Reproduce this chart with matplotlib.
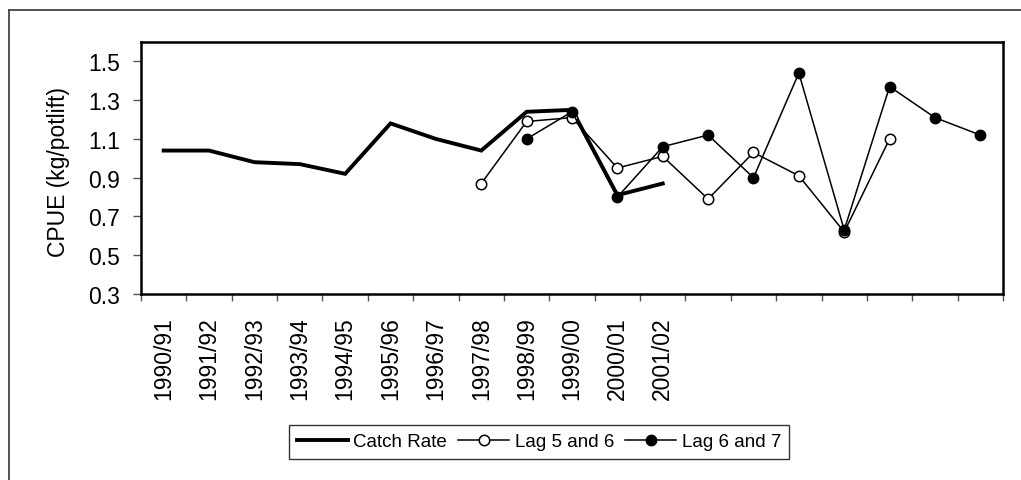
import matplotlib
matplotlib.use("Agg")
import matplotlib.pyplot as plt
from matplotlib.lines import Line2D
import numpy as np

plt.rcParams['font.family'] = ['Liberation Sans', 'DejaVu Sans']

seasons = ["1990/91", "1991/92", "1992/93", "1993/94", "1994/95", "1995/96",
           "1996/97", "1997/98", "1998/99", "1999/00", "2000/01", "2001/02",
           "", "", "", "", "", "", ""]
catch_rate = [1.04, 1.04, 0.98, 0.97, 0.92, 1.18, 1.10, 1.04, 1.24, 1.25, 0.81, 0.87,
              None, None, None, None, None, None, None]
lag_5_6 = [None, None, None, None, None, None, None, 0.87, 1.19, 1.21, 0.95, 1.01,
           0.79, 1.03, 0.91, 0.62, 1.10, None, None]
lag_6_7 = [None, None, None, None, None, None, None, None, 1.10, 1.24, 0.80, 1.06,
           1.12, 0.90, 1.44, 0.63, 1.37, 1.21, 1.12]
y_ticks = [0.3, 0.5, 0.7, 0.9, 1.1, 1.3, 1.5]

def arr(v):
    return np.array([np.nan if x is None else x for x in v], dtype=float)

W, H = 1021, 481
fig = plt.figure(figsize=(W / 100, H / 100), dpi=100)
ax = fig.add_axes([141 / W, 1 - 295 / H, (1003 - 141) / W, (295 - 43) / H])

x = np.arange(len(seasons)) + 0.5
ax.plot(x, arr(catch_rate), color='black', lw=2.8, solid_joinstyle='miter',
        label='Catch Rate', zorder=3)
ax.plot(x, arr(lag_5_6), color='black', lw=1.1, marker='o', markersize=7.5,
        markerfacecolor='white', markeredgecolor='black', markeredgewidth=1.1,
        label='Lag 5 and 6', zorder=4)
ax.plot(x, arr(lag_6_7), color='black', lw=1.1, marker='o', markersize=7.5,
        markerfacecolor='black', markeredgecolor='black',
        label='Lag 6 and 7', zorder=5)

ax.set_xlim(0, len(seasons))
ax.set_ylim(0.3, 1.6)
ax.set_yticks(y_ticks)
ax.set_yticklabels([f"{v:.1f}" for v in y_ticks], fontsize=16.5)
ax.set_xticks(np.arange(0, len(seasons) + 1))
ax.set_xticklabels([])
ax.set_xticks(x, minor=True)
ax.set_xticklabels(seasons, minor=True, rotation=90, fontsize=16.5)
ax.tick_params(axis='x', which='minor', length=0, pad=16)
ax.tick_params(axis='x', which='major', length=5, width=1, color='#555555')
ax.tick_params(axis='y', length=6, width=1, color='#555555', pad=9)
for s in ax.spines.values():
    s.set_linewidth(1.8)
    s.set_color('black')
fig.text(59 / W, 1 - 172 / H, "CPUE (kg/potlift)", rotation=90, fontsize=16.5,
         ha='center', va='center')

leg = fig.legend(loc='center', bbox_to_anchor=(539 / W, 1 - 442.5 / H), ncol=3,
                 fontsize=13.5, frameon=True, fancybox=False, handlelength=2.7,
                 handletextpad=0.3, columnspacing=0.6, borderpad=0.45)
leg.get_frame().set_edgecolor('black')
leg.get_frame().set_linewidth(1.0)

# outer chart-area border (left and top only visible)
fig.add_artist(Line2D([8.5 / W, 8.5 / W], [0, 1 - 10.5 / H], transform=fig.transFigure,
                      color='#444444', lw=1.3))
fig.add_artist(Line2D([8.5 / W, 1], [1 - 10.5 / H, 1 - 10.5 / H], transform=fig.transFigure,
                      color='#444444', lw=1.3))

fig.savefig("out.png", dpi=100)
